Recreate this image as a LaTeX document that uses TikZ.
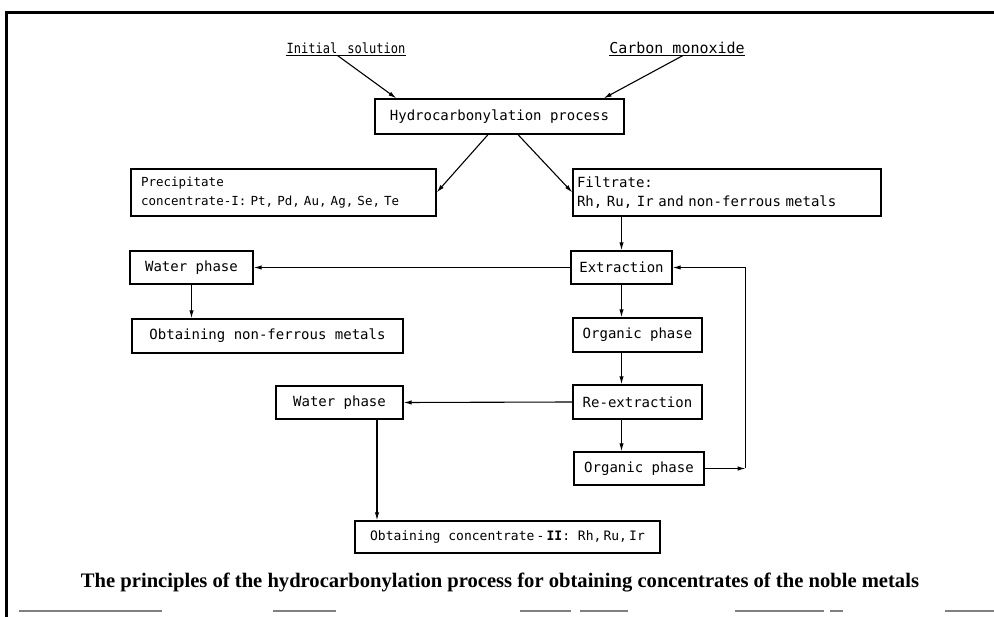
\documentclass[tikz,border=0pt]{standalone}
\usepackage{fontspec}
\newfontfamily\flowfont[WordSpace=2]{DejaVu Sans Mono}
\newfontfamily\flowfontn{DejaVu Sans Mono}
\newfontfamily\flowfontc[FakeStretch=0.86,WordSpace=1.4]{DejaVu Sans Mono}
\newfontfamily\capfont{Liberation Serif}
\usetikzlibrary{arrows.meta}

\begin{document}
\begin{tikzpicture}[x=1pt,y=-1pt,
        procbox/.style={draw,line width=1.3pt,inner xsep=2pt,inner ysep=0pt,
            font=\flowfont\fontsize{14}{19}\selectfont,minimum height=33pt},
        flow/.style={line width=1.1pt,-{Latex[length=8pt,width=4.4pt]}},
        feed/.style={inner xsep=0pt,inner ysep=1.5pt}]
                \useasboundingbox (0,0) rectangle (994,617);
                \draw[line width=3pt]
                    (6,617) -- (6,13) -- (994,13);
                \foreach \a/\b in {19/162,273/336,520/571,580/628,735/824,830/843,945/994}
                    \draw[gray,line width=1.5pt] (\a,611) -- (\b,611);

                \node[feed,font=\flowfontc\fontsize{14}{16}\selectfont] (init) at (346,48) {Initial solution};
                \node[feed,font=\flowfont\fontsize{15}{17}\selectfont] (co) at (677,48) {Carbon monoxide};
                \draw[line width=1.1pt] (init.south west) -- (init.south east);
                \draw[line width=1.1pt] (co.south west) -- (co.south east);

                \node[procbox,minimum width=249pt,minimum height=35pt] (hydro) at (499.5,116.5)
                    {Hydrocarbonylation process};
                \node[procbox,minimum height=47pt,inner xsep=10pt,text width=285pt,align=left,
                    font=\flowfontn\fontsize{12.5}{19}\selectfont] (prec) at (283.5,192.5)
                    {Precipitate\\concentrate-I: Pt, Pd, Au, Ag, Se, Te};
                \node[procbox,minimum height=47pt,inner xsep=4pt,text width=300pt,align=left,
                    font=\flowfontn\fontsize{14}{19}\selectfont] (filt) at (727,192.5)
                    {Filtrate:\\Rh, Ru, Ir and non-ferrous metals};
                \node[procbox,minimum width=101pt] (ext) at (621.5,267.5) {Extraction};
                \node[procbox,minimum width=123pt] (wat1) at (191.5,267.5) {Water phase};
                \node[procbox,minimum width=271pt,minimum height=34pt] (nonfe) at (267.5,336)
                    {Obtaining non-ferrous metals};
                \node[procbox,minimum width=129pt,minimum height=34pt] (org1) at (637.5,335) {Organic phase};
                \node[procbox,minimum width=129pt,minimum height=34pt] (reext) at (637.5,402) {Re-extraction};
                \node[procbox,minimum width=127pt] (wat2) at (339.5,402.5) {Water phase};
                \node[procbox,minimum width=130pt] (org2) at (639,468.5) {Organic phase};
                \node[procbox,minimum width=305pt,minimum height=32pt,
                    font=\flowfont\fontsize{13}{17}\selectfont] (conc) at (507.5,537)
                    {Obtaining concentrate\,-\,\textbf{II}: Rh,\,Ru,\,Ir};
                \node[font=\capfont\bfseries\fontsize{20.6}{24}\selectfont] (cap) at (500,583)
                    {The principles of the hydrocarbonylation process for obtaining concentrates of the noble metals};

                \draw[flow] ([xshift=-9pt]init.south) -- ([xshift=22pt]hydro.north west);
                \draw[flow] ([xshift=6pt]co.south) -- ([xshift=-21pt]hydro.north east);
                \draw[flow] ([xshift=-11.5pt]hydro.south) -- (prec.east);
                \draw[flow] ([xshift=18.5pt]hydro.south) -- (filt.west);
                \draw[flow] (filt.south -| ext.north) -- (ext.north);
                \draw[flow] (ext.west) -- (wat1.east);
                \draw[flow] (wat1.south) -- (nonfe.north -| wat1.south);
                \draw[flow] (ext.south) -- (org1.north -| ext.south);
                \draw[flow] (org1.south -| ext.south) -- (reext.north -| ext.south);
                \draw[flow] (reext.south -| ext.south) -- (org2.north -| ext.south);
                \draw[flow] (reext.west) -- (wat2.east);
                \coordinate (w2) at ([xshift=37.5pt]wat2.south);
                \draw[flow] (w2) -- (w2 |- conc.north);
                \coordinate (loop) at ([xshift=41pt]org2.east);
                \draw[flow] (org2.east) -- (loop);
                \draw[flow] (loop) |- (ext.east);
            \end{tikzpicture}
\end{document}
